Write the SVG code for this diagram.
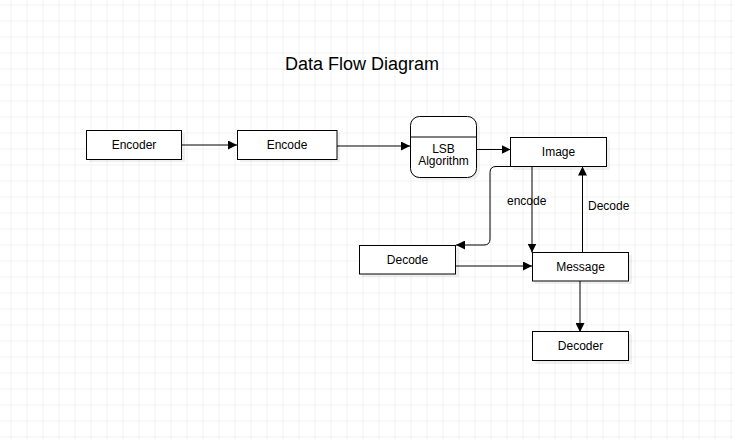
<svg xmlns="http://www.w3.org/2000/svg" width="734" height="439" viewBox="0 0 734 439">
<style>
.box{fill:#fff;stroke:#000;stroke-width:1}
.sh{fill:#000;opacity:0.06}
.t{font-family:"Liberation Sans",Arial,sans-serif;font-size:12px;fill:#000;text-anchor:middle}
.lbl{font-family:"Liberation Sans",Arial,sans-serif;font-size:12px;fill:#000}
.c{fill:none;stroke:#000;stroke-width:1}
</style>
<defs>
<pattern id="grid" width="16" height="16" patternUnits="userSpaceOnUse" x="10.5" y="4.5">
<path d="M0 0H16M0 0V16" fill="none" stroke="#e6e6e6" stroke-width="1"/>
</pattern>
<marker id="arr" viewBox="0 0 10 10" refX="10" refY="5" markerWidth="9" markerHeight="9" markerUnits="userSpaceOnUse" orient="auto">
<path d="M0 0L10 5L0 10Z" fill="#000"/>
</marker>
</defs>
<rect width="734" height="439" fill="#fff"/>
<rect width="734" height="439" fill="url(#grid)"/>
<text x="362" y="70" font-family="Liberation Sans,Arial,sans-serif" font-size="18" text-anchor="middle" fill="#000">Data Flow Diagram</text>
<g id="connectors">
<path class="c" d="M182 145H237" marker-end="url(#arr)"/>
<path class="c" d="M337 146H410" marker-end="url(#arr)"/>
<path class="c" d="M477 149.5H510.5" marker-end="url(#arr)"/>
<path class="c" d="M510.5 166.5H496Q490 166.5 490 172.5V239Q490 245 484 245H456" marker-end="url(#arr)"/>
<path class="c" d="M532 166.5V252.5" marker-end="url(#arr)"/>
<path class="c" d="M582.5 252.5V166.5" marker-end="url(#arr)"/>
<path class="c" d="M456 266H532" marker-end="url(#arr)"/>
<path class="c" d="M580 281V332" marker-end="url(#arr)"/>
<text class="lbl" x="507" y="205">encode</text>
<text class="lbl" x="588" y="210">Decode</text>
</g>
<g id="encoder">
<rect class="sh" x="89" y="133" width="96" height="29"/>
<rect class="box" x="86.5" y="130.5" width="95" height="29"/>
<text class="t" x="134" y="149">Encoder</text>
</g>
<g id="encode">
<rect class="sh" x="240" y="133" width="100" height="29"/>
<rect class="box" x="237.5" y="130.5" width="99.5" height="29"/>
<text class="t" x="287" y="149">Encode</text>
</g>
<g id="lsb">
<rect class="sh" x="413" y="119" width="67" height="61" rx="9"/>
<rect class="box" x="410.5" y="116.5" width="66" height="61" rx="9"/>
<path class="c" d="M410.5 137H476.5"/>
<text class="t" x="443.5" y="152.5">LSB</text>
<text class="t" x="443.5" y="165">Algorithm</text>
</g>
<g id="image">
<rect class="sh" x="513" y="140" width="97" height="30"/>
<rect class="box" x="510.5" y="137.5" width="96" height="29"/>
<text class="t" x="558.5" y="156">Image</text>
</g>
<g id="decode">
<rect class="sh" x="362" y="248" width="97" height="29"/>
<rect class="box" x="359.5" y="245.5" width="96" height="28.5"/>
<text class="t" x="407.5" y="264">Decode</text>
</g>
<g id="message">
<rect class="sh" x="535" y="255" width="97" height="29"/>
<rect class="box" x="532.5" y="252.5" width="96" height="28.5"/>
<text class="t" x="580.5" y="271">Message</text>
</g>
<g id="decoder">
<rect class="sh" x="535" y="334" width="97" height="30"/>
<rect class="box" x="532.5" y="331.5" width="96" height="29"/>
<text class="t" x="580.5" y="350">Decoder</text>
</g>
</svg>
